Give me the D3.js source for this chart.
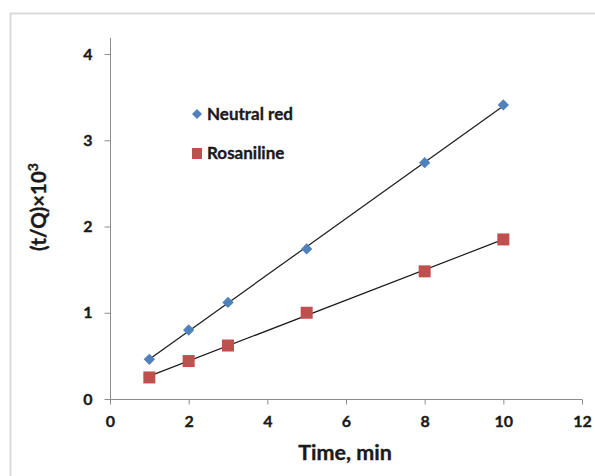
<!DOCTYPE html>
<html><head><meta charset="utf-8">
<script src="https://cdn.jsdelivr.net/npm/d3@7"></script>
<style>body{margin:0;background:#fff;} svg{display:block;font-family:Lato,"Open Sans",sans-serif;}
.t{fill:#1a1a1a;stroke:#1a1a1a;stroke-width:0.35px;font-weight:bold;}</style>
</head><body>
<svg id="c" width="595" height="476"></svg>
<script>
const timeMin = [1, 2, 3, 5, 8, 10];
const neutralRed = [0.46, 0.80, 1.12, 1.74, 2.74, 3.41];
const rosaniline = [0.25, 0.44, 0.62, 1.00, 1.48, 1.85];
const xTicks = [0, 2, 4, 6, 8, 10, 12];
const yTicks = [0, 1, 2, 3, 4];
const seriesNames = ["Neutral red", "Rosaniline"];

const svg = d3.select("#c");
// chart frame (right/bottom edges fall outside the picture)
svg.append("rect").attr("x", 10.5).attr("y", 13.5).attr("width", 620).attr("height", 500)
  .attr("fill", "#fff").attr("stroke", "#d9d9d9").attr("stroke-width", 2);

const x = d3.scaleLinear().domain([0, 12]).range([110, 582]);
const y = d3.scaleLinear().domain([0, 4]).range([399, 54]);

const axisColor = "#8c8c8c";
// y axis
const gy = svg.append("g").attr("transform", "translate(110.5,0)")
  .call(d3.axisLeft(y).tickValues(yTicks).tickSize(6).tickPadding(12).tickFormat(d3.format("d")));
gy.select(".domain").remove();
gy.append("line").attr("x1", 0).attr("x2", 0).attr("y1", 38).attr("y2", y(0)).attr("stroke", axisColor);
gy.selectAll(".tick line").attr("stroke", axisColor);
gy.selectAll(".tick text").attr("class", "t").attr("font-size", 16).attr("font-family", "Lato, sans-serif");

// x axis
const gx = svg.append("g").attr("transform", "translate(0,399.5)")
  .call(d3.axisBottom(x).tickValues(xTicks).tickSize(5).tickPadding(11).tickFormat(d3.format("d")));
gx.select(".domain").attr("stroke", axisColor).attr("d", `M${x(0)},0H${x(12)}`);
gx.selectAll(".tick line").attr("stroke", axisColor);
gx.selectAll(".tick text").attr("class", "t").attr("font-size", 16).attr("font-family", "Lato, sans-serif");

// axis titles
svg.append("text").attr("class", "t").attr("x", 345).attr("y", 460).attr("text-anchor", "middle")
  .attr("font-size", 21.5).text("Time, min");
const yt = svg.append("text").attr("class", "t").attr("transform", "translate(46,207) rotate(-90)")
  .attr("text-anchor", "middle").attr("font-size", 20.5);
yt.append("tspan").text("(t/Q)×10");
yt.append("tspan").attr("dy", -8).attr("font-size", 14).text("3");

// trendlines (least squares fit)
function fit(xs, ys) {
  const n = xs.length, mx = d3.mean(xs), my = d3.mean(ys);
  let sxy = 0, sxx = 0;
  for (let i = 0; i < n; i++) { sxy += (xs[i]-mx)*(ys[i]-my); sxx += (xs[i]-mx)**2; }
  const b = sxy / sxx, a = my - b*mx;
  return [[d3.min(xs), a + b*d3.min(xs)], [d3.max(xs), a + b*d3.max(xs)]];
}
const line = d3.line().x(d => x(d[0])).y(d => y(d[1]));
[neutralRed, rosaniline].forEach(s => {
  svg.append("path").attr("d", line(fit(timeMin, s))).attr("fill", "none")
    .attr("stroke", "#1a1a1a").attr("stroke-width", 1.2);
});

const blue = "#4f81bd", red = "#c0504d";
const diamond = d3.symbol().type(d3.symbolSquare).size(64);
// neutral red diamonds
svg.append("g").selectAll("path").data(timeMin.map((t, i) => [t, neutralRed[i]])).join("path")
  .attr("d", diamond).attr("fill", blue)
  .attr("transform", d => `translate(${x(d[0])},${y(d[1])}) rotate(45)`);
// rosaniline squares
svg.append("g").selectAll("rect").data(timeMin.map((t, i) => [t, rosaniline[i]])).join("rect")
  .attr("x", d => x(d[0]) - 6).attr("y", d => y(d[1]) - 6).attr("width", 12).attr("height", 12)
  .attr("fill", red);

// legend
const lg = svg.append("g");
lg.append("path").attr("d", d3.symbol().type(d3.symbolSquare).size(50)).attr("fill", blue)
  .attr("transform", "translate(197,114) rotate(45)");
lg.append("rect").attr("x", 192).attr("y", 148).attr("width", 10).attr("height", 11).attr("fill", red);
lg.append("text").attr("class", "t").attr("x", 207).attr("y", 120).attr("font-size", 17)
  .text(seriesNames[0]);
lg.append("text").attr("class", "t").attr("x", 207).attr("y", 159).attr("font-size", 17)
  .text(seriesNames[1]);
</script>
</body></html>
